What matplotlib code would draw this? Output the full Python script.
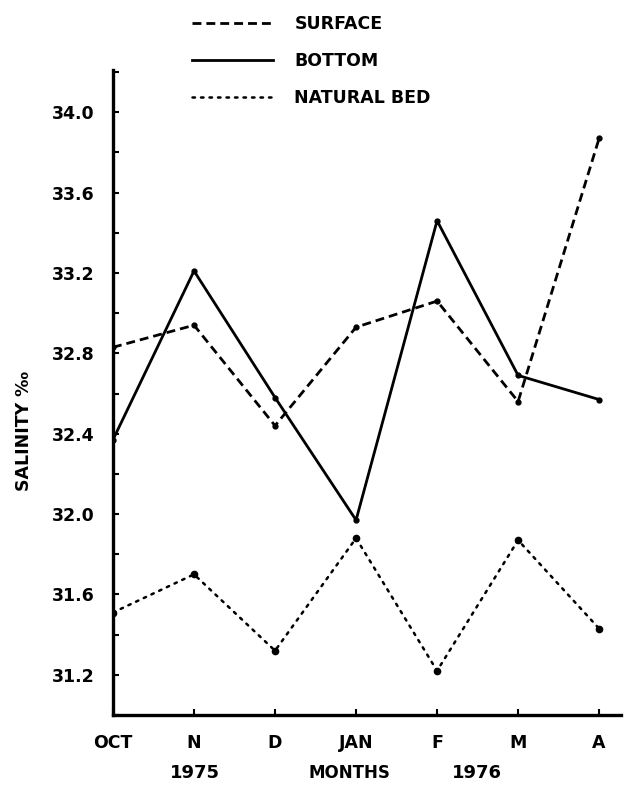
import numpy as np
import matplotlib
matplotlib.use('Agg')
import matplotlib.pyplot as plt
from matplotlib.ticker import MultipleLocator

months = ['OCT', 'N', 'D', 'JAN', 'F', 'M', 'A']
surface = [32.83, 32.94, 32.44, 32.93, 33.06, 32.56, 33.87]
bottom = [32.37, 33.21, 32.58, 31.97, 33.46, 32.69, 32.57]
natural_bed = [31.51, 31.70, 31.32, 31.88, 31.22, 31.87, 31.43]
y_ticks = [31.2, 31.6, 32.0, 32.4, 32.8, 33.2, 33.6, 34.0]

plt.rcParams['font.family'] = ['DejaVu Sans']
plt.rcParams['font.weight'] = 'bold'

fig = plt.figure(figsize=(6.24, 7.86), dpi=100)
ax = fig.add_axes([113/624, 1-715/786, (621-113)/624, (715-70)/786])

x = np.arange(len(months))

ax.plot(x, surface, color='black', linewidth=2.0, linestyle=(0, (3.2, 1.8)),
        marker='o', markersize=3.5, label='SURFACE')
ax.plot(x, bottom, color='black', linewidth=2.0, linestyle='-',
        marker='o', markersize=3.5, label='BOTTOM')
ax.plot(x, natural_bed, color='black', linewidth=1.8, linestyle=(0, (1, 2.4)),
        dash_capstyle='round', marker='o', markersize=4.5, label='NATURAL BED')

ax.set_xlim(0, 6.27)
ax.set_ylim(31.0, 34.21)

ax.spines['top'].set_visible(False)
ax.spines['right'].set_visible(False)
ax.spines['left'].set_linewidth(2.4)
ax.spines['bottom'].set_linewidth(2.4)

ax.set_xticks(x)
ax.set_xticklabels(months, fontsize=12.5, fontweight='bold')
ax.set_yticks(y_ticks)
ax.set_yticklabels(['%.1f' % v for v in y_ticks], fontsize=12.5, fontweight='bold')
ax.yaxis.set_minor_locator(MultipleLocator(0.2))
ax.tick_params(axis='both', which='both', direction='in', length=4, width=1.5)
ax.tick_params(axis='y', pad=13)
ax.tick_params(axis='x', pad=14)

fig.text(24/624, 1-431/786, 'SALINITY \u2030', rotation=90, ha='center', va='center',
         fontsize=12.5, fontweight='bold')
fig.text(195/624, 1-773/786, '1975', ha='center', va='center', fontsize=13, fontweight='bold')
fig.text(349/624, 1-773/786, 'MONTHS', ha='center', va='center', fontsize=12, fontweight='bold')
fig.text(477/624, 1-773/786, '1976', ha='center', va='center', fontsize=13, fontweight='bold')

fig.legend(loc='upper left', bbox_to_anchor=(192/624, 1-15/786), frameon=False,
           borderpad=0, borderaxespad=0,
           fontsize=12.5, handlelength=4.65, handletextpad=1.25, labelspacing=1.1,
           markerscale=0)

fig.savefig('out.png', dpi=100)
